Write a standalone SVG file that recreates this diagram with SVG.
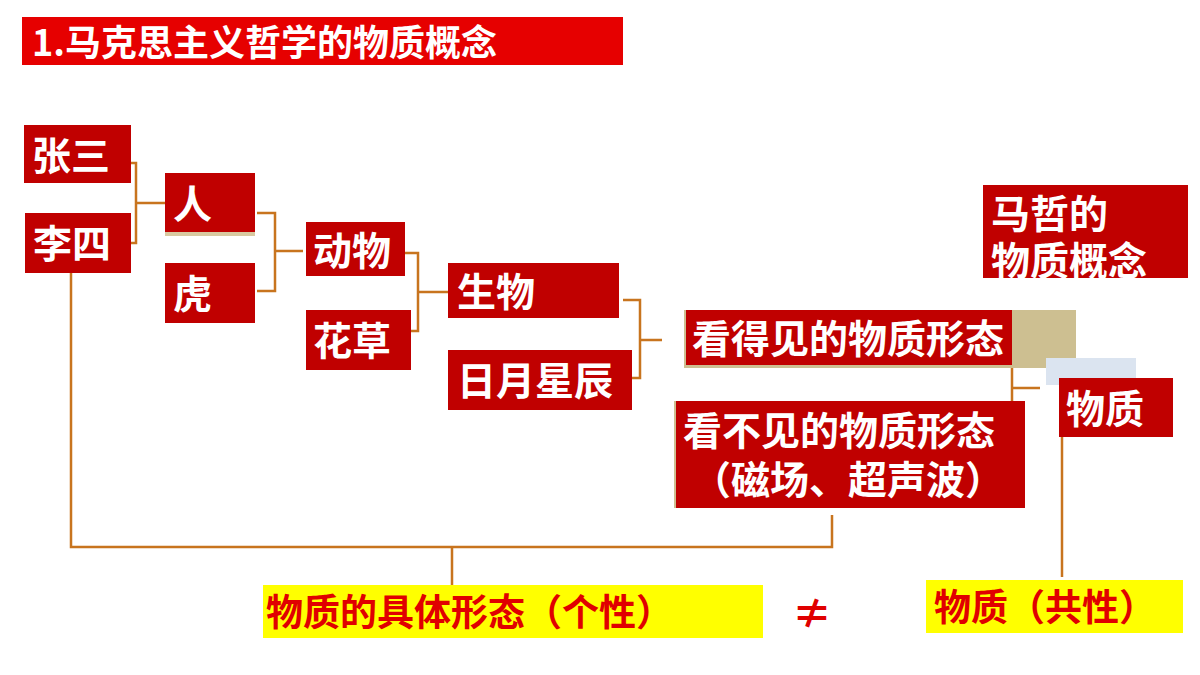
<svg xmlns="http://www.w3.org/2000/svg" width="1200" height="675" viewBox="0 0 1200 675">
<style>
.b{fill:#c00000}
.t{fill:#fff;font-family:"Noto Sans CJK SC","Noto Sans",sans-serif;font-weight:bold;font-size:39px}
.y{fill:#ffff00}
.r{fill:#e00000;font-family:"Noto Sans CJK SC","Noto Sans",sans-serif;font-weight:bold;font-size:37px}
.c{fill:none;stroke:#c8741e;stroke-width:2.5}
</style>
<rect width="1200" height="675" fill="#fff"/>
<g id="title"><rect x="22" y="17" width="601" height="48" fill="#e60000"/><text class="t" x="32" y="56" style="font-size:36px">1.马克思主义哲学的物质概念</text></g>
<g id="connectors">
<path class="c" d="M118 163H136V243H118M136 203H165"/>
<path class="c" d="M257 213H275V291H257M275 251H303"/>
<path class="c" d="M405 253H418V331H405M418 292H448"/>
<path class="c" d="M623 300H640V378H623M640 340H662"/>
<path class="c" d="M1000 345H1012V428H1000M1012 388H1040"/>
<path class="c" d="M71 273V547H832V515M452 547V585"/>
<path class="c" d="M1062 425V577"/>
</g>
<g id="n1"><rect class="b" x="24" y="125" width="107" height="58"/><text class="t" x="32" y="170">张三</text></g>
<g id="n2"><rect class="b" x="25" y="213" width="106" height="60"/><text class="t" x="33" y="258">李四</text></g>
<g id="n3"><rect x="165" y="176" width="90" height="60" fill="#d8c9a0"/><rect class="b" x="165" y="173" width="90" height="59"/><text class="t" x="173" y="218">人</text></g>
<g id="n4"><rect class="b" x="165" y="263" width="90" height="60"/><text class="t" x="173" y="308">虎</text></g>
<g id="n5"><rect class="b" x="306" y="222" width="99" height="54"/><text class="t" x="313" y="265">动物</text></g>
<g id="n6"><rect class="b" x="306" y="310" width="105" height="60"/><text class="t" x="313" y="355">花草</text></g>
<g id="n7"><rect class="b" x="448" y="263" width="171" height="55"/><text class="t" x="457" y="306">生物</text></g>
<g id="n8"><rect class="b" x="448" y="350" width="184" height="60"/><text class="t" x="457" y="395">日月星辰</text></g>
<g id="n9"><rect x="684" y="310" width="392" height="58" fill="#cdbf91"/><rect class="b" x="686" y="310" width="326" height="55"/><text class="t" x="692" y="353">看得见的物质形态</text></g>
<rect x="1046" y="358" width="90" height="27" fill="#dbe4f0"/>
<g id="n10"><rect x="674" y="401" width="350" height="107" fill="#cdbf91"/><rect class="b" x="676" y="401" width="349" height="107"/><text class="t" x="683" y="445">看不见的物质形态</text><text class="t" x="692" y="494">（磁场、超声波）</text></g>
<g id="n11"><rect class="b" x="1059" y="378" width="114" height="59"/><text class="t" x="1066" y="423">物质</text></g>
<g id="n12"><rect class="b" x="983" y="185" width="205" height="93"/><text class="t" x="991" y="228">马哲的</text><text class="t" x="991" y="275">物质概念</text></g>
<g id="n13"><rect class="y" x="263" y="585" width="500" height="53"/><text class="r" x="266" y="626">物质的具体形态（个性）</text></g>
<text class="r" x="792" y="628" style="font-size:40px">≠</text>
<g id="n14"><rect class="y" x="926" y="580" width="257" height="53"/><text class="r" x="934" y="621">物质（共性）</text></g>
</svg>
